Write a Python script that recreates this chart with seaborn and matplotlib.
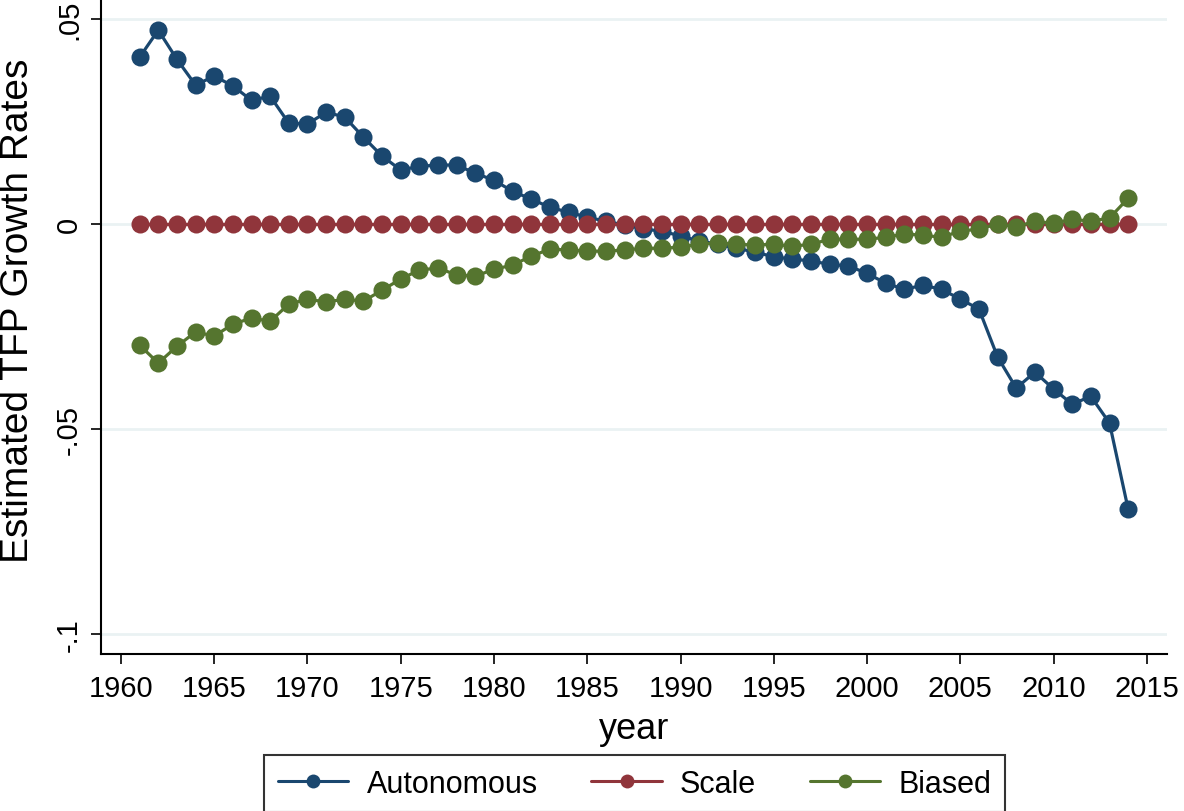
import pandas as pd
import matplotlib
matplotlib.use("Agg")
import matplotlib.pyplot as plt
import seaborn as sns

# data
years = list(range(1961, 2015))
autonomous = [0.0407, 0.0473, 0.0402, 0.0339, 0.0361, 0.0337, 0.0302, 0.0312, 0.0246, 0.0244,
              0.0273, 0.0261, 0.0212, 0.0166, 0.0132, 0.0141, 0.0144, 0.0144, 0.0124, 0.0107,
              0.0080, 0.0061, 0.0041, 0.0029, 0.0017, 0.0007, -0.0002, -0.0012, -0.0017, -0.0029,
              -0.0041, -0.0049, -0.0059, -0.0068, -0.0080, -0.0085, -0.0090, -0.0098, -0.0102, -0.0120,
              -0.0144, -0.0159, -0.0149, -0.0159, -0.0183, -0.0207, -0.0324, -0.0400, -0.0361, -0.0402,
              -0.0439, -0.0420, -0.0485, -0.0695]
scale = [0.0] * len(years)
biased = [-0.0295, -0.0339, -0.0298, -0.0263, -0.0273, -0.0244, -0.0229, -0.0237, -0.0195, -0.0183,
          -0.0190, -0.0183, -0.0188, -0.0161, -0.0134, -0.0112, -0.0107, -0.0124, -0.0127, -0.0110,
          -0.0100, -0.0078, -0.0061, -0.0063, -0.0066, -0.0066, -0.0063, -0.0059, -0.0059, -0.0056,
          -0.0049, -0.0046, -0.0049, -0.0051, -0.0049, -0.0054, -0.0049, -0.0037, -0.0037, -0.0037,
          -0.0032, -0.0024, -0.0027, -0.0032, -0.0017, -0.0012, 0.0000, -0.0007, 0.0007, 0.0002,
          0.0012, 0.0007, 0.0015, 0.0063]

series_names = ["Autonomous", "Scale", "Biased"]
colors = ["#1a476f", "#90353b", "#55752f"]
y_ticks = [-0.1, -0.05, 0, 0.05]
y_tick_labels = ["-.1", "-.05", "0", ".05"]
x_ticks = list(range(1960, 2020, 5))

df = pd.concat([
    pd.DataFrame({"year": years, "value": autonomous, "series": "Autonomous"}),
    pd.DataFrame({"year": years, "value": scale, "series": "Scale"}),
    pd.DataFrame({"year": years, "value": biased, "series": "Biased"}),
])

sns.set_style("white")
plt.rcParams["font.family"] = ["Liberation Sans", "DejaVu Sans"]
plt.rcParams["text.color"] = "black"
plt.rcParams["axes.labelcolor"] = "black"

fig = plt.figure(figsize=(11.84, 8.12), dpi=100)
ax = fig.add_axes([0.0853, 0.193, 0.9003, 0.807])

# grid lines first so the markers sit on top
for yv in y_ticks:
    ax.axhline(yv, color="#eaf2f3", lw=2, zorder=0)

sns.lineplot(data=df, x="year", y="value", hue="series", hue_order=series_names,
             palette=colors, marker="o", markersize=13, markeredgewidth=0,
             linewidth=2.3, ax=ax, legend=False)

ax.set_xlim(1958.93, 2016.08)
ax.set_ylim(-0.1049, 0.0549)
ax.set_xticks(x_ticks)
ax.set_xticklabels([str(x) for x in x_ticks], fontsize=21)
ax.set_yticks(y_ticks)
ax.set_yticklabels(y_tick_labels, fontsize=21, rotation=90, va="center")
ax.tick_params(axis="both", bottom=True, left=True, direction="out", length=7,
               width=1.2, color="black", labelcolor="black")
ax.tick_params(axis="x", pad=7)
ax.tick_params(axis="y", pad=6)
ax.set_xlabel("year", fontsize=26, labelpad=7)
ax.set_ylabel("Estimated TFP Growth Rates", fontsize=28)
ax.yaxis.set_label_coords(-0.061, 0.525)

for side in ["top", "right"]:
    ax.spines[side].set_visible(False)
for side in ["left", "bottom"]:
    ax.spines[side].set_linewidth(1.5)
    ax.spines[side].set_color("black")

handles = [plt.Line2D([], [], color=c, marker="o", markersize=10, markeredgewidth=0, linewidth=2.2)
           for c in colors]
leg = fig.legend(handles, series_names, loc="upper center", bbox_to_anchor=(0.536, 0.069),
                 ncol=3, frameon=True, fancybox=False, fontsize=22, handlelength=2.3,
                 handletextpad=0.6, columnspacing=1.75, borderpad=0.45, borderaxespad=0,
                 edgecolor="black")
leg.get_frame().set_linewidth(1.5)

fig.savefig("out.png", dpi=100, facecolor="white")
